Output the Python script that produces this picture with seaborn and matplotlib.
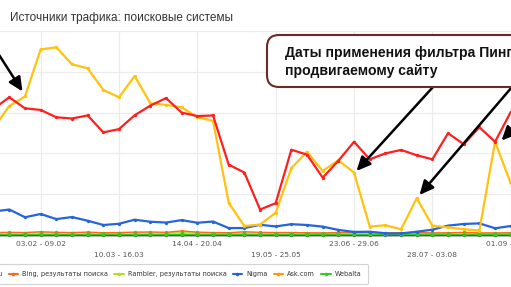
import matplotlib
matplotlib.use("Agg")
import matplotlib.pyplot as plt
import seaborn as sns
import pandas as pd
from matplotlib.lines import Line2D
from matplotlib.patches import FancyBboxPatch
from matplotlib.transforms import IdentityTransform

# ---- data (weekly points; week index 2 = 03.02-09.02) ----
weeks = list(range(-1, 33))
yandex = [61.9, 67.5, 62.1, 61.3, 57.7, 57.1, 58.6, 50.3, 51.9, 58.7, 63.4, 67.1, 60.0, 58.3, 58.6,
          34.5, 30.6, 12.5, 15.6, 41.8, 39.4, 28.1, 36.4, 45.7, 37.1, 40.0, 41.7, 39.1, 37.1, 49.9,
          44.5, 52.8, 45.7, 60.3]
google = [52.5, 63.2, 67.9, 91.0, 92.0, 83.7, 81.7, 71.1, 67.5, 77.9, 64.6, 63.8, 62.6, 57.7, 56.0,
          15.8, 4.4, 5.1, 10.9, 32.8, 40.8, 31.4, 36.6, 30.6, 4.1, 4.8, 2.8, 18.0, 4.6, 3.7,
          2.8, 2.2, 45.7, 25.3]
nigma = [11.5, 12.5, 8.7, 10.3, 7.8, 8.8, 7.0, 4.9, 5.5, 7.5, 6.5, 6.1, 7.3, 6.0, 6.6,
         3.4, 3.4, 5.0, 4.2, 5.3, 4.9, 4.1, 2.5, 1.5, 1.6, 0.8, 0.8, 1.6, 2.6, 4.6,
         5.4, 5.7, 3.3, 4.4]
bing = [1.2, 1.3, 1.2, 1.6, 1.3, 1.2, 1.4, 1.1, 1.2, 1.4, 1.5, 1.3, 2.0, 1.4, 1.2,
        1.1, 1.6, 1.3, 1.2, 1.2, 1.1, 1.0, 1.2, 1.3, 1.5, 1.1, 1.0, 1.2, 1.0, 1.1,
        1.3, 1.0, 1.0, 1.1]
rambler = [1.0, 1.1, 1.0, 1.1, 1.0, 1.0, 1.0, 0.9, 1.0, 1.0, 1.0, 1.0, 1.1, 1.0, 1.0,
           0.9, 0.9, 1.0, 0.9, 1.0, 1.0, 0.9, 0.9, 0.9, 0.9, 0.8, 0.9, 0.9, 0.9, 0.9,
           1.0, 0.9, 0.9, 0.9]
askcom = [0.7] * 34
webalta = [0.4] * 34
mailru = [0.15] * 34

series_names = ["Яндекс, результаты поиска", "Google, результаты поиска", "Поиск Mail.ru",
                "Bing, результаты поиска", "Rambler, результаты поиска", "Nigma", "Ask.com", "Webalta"]
series_values = [yandex, google, mailru, bing, rambler, nigma, askcom, webalta]
colors = ["#ff1f1f", "#ffc20e", "#333333", "#ff6a13", "#aee31a", "#2464dc", "#ff9a00", "#33cc22"]

major_pos = [2, 12, 22, 32]
major_lab = ["03.02 - 09.02", "14.04 - 20.04", "23.06 - 29.06", "01.09 - 07.09"]
minor_pos = [7, 17, 27]
minor_lab = ["10.03 - 16.03", "19.05 - 25.05", "28.07 - 03.08"]

title = "Источники трафика: поисковые системы"
note_lines = ["Даты применения фильтра Пингвин к", "продвигаемому сайту"]

rows = []
for name, vals in zip(series_names, series_values):
    for w, v in zip(weeks, vals):
        rows.append({"week": w, "value": v, "series": name})
df = pd.DataFrame(rows)

sns.set_style("white")
plt.rcParams["font.family"] = ["DejaVu Sans"]

W, H = 511, 287
fig = plt.figure(figsize=(W / 100, H / 100), dpi=100)
ax = fig.add_axes([0, 1 - 235 / H, 1, (235 - 31) / H])

draw_order = [2, 6, 4, 3, 7, 5, 1, 0]
for i in draw_order:
    name = series_names[i]
    sub = df[df.series == name]
    ms = 3.2 if name == "Webalta" else 2.4
    lw = 1.0 if i in (2, 3, 4, 6, 7) else 1.6
    sns.lineplot(data=sub, x="week", y="value", color=colors[i], marker="o", markersize=ms,
                 markeredgewidth=0, linewidth=lw, ax=ax, legend=False, sort=False,
                 clip_on=False, zorder=3 + draw_order.index(i))

ax.set_xlim(-9.3 / 15.67, (511 - 9.3) / 15.67)
ax.set_ylim(0, 100)
ax.set_yticks([0, 20, 40, 60, 80, 100])
ax.set_xticks(major_pos)
ax.set_xticklabels(major_lab)
ax.set_xticks(minor_pos, minor=True)
ax.set_xticklabels(minor_lab, minor=True)
ax.tick_params(axis="y", left=False, labelleft=False)
ax.tick_params(axis="x", which="major", length=0, pad=4.0, labelsize=5.3, labelcolor="#555555")
ax.tick_params(axis="x", which="minor", length=0, pad=12.2, labelsize=5.3, labelcolor="#555555")
ax.grid(True, which="both", axis="x", color="#ebebeb", lw=0.8)
ax.grid(True, which="major", axis="y", color="#ebebeb", lw=0.8)
ax.set_xlabel("")
ax.set_ylabel("")
for s in ["top", "left", "right"]:
    ax.spines[s].set_visible(False)
ax.spines["bottom"].set_color("#3a3a3a")
ax.spines["bottom"].set_linewidth(1.0)
ax.spines["bottom"].set_zorder(2.5)

# title
fig.text(10 / W, 1 - 21.5 / H, title, fontsize=8.5, color="#333333",
         family=["Liberation Sans", "DejaVu Sans"], va="baseline", ha="left")

# callout box
box = FancyBboxPatch((267, H - 87), 420, 52, boxstyle="round,pad=0,rounding_size=12",
                     transform=IdentityTransform(), facecolor="white", edgecolor="#6b2a2a",
                     linewidth=1.5, zorder=20)
fig.add_artist(box)
fig.text(285 / W, 1 - 56.7 / H, note_lines[0], fontsize=10.1, fontweight="bold", color="#111111",
         family=["Liberation Sans", "DejaVu Sans"], va="baseline", ha="left", zorder=21)
fig.text(285 / W, 1 - 74.5 / H, note_lines[1], fontsize=10.1, fontweight="bold", color="#111111",
         family=["Liberation Sans", "DejaVu Sans"], va="baseline", ha="left", zorder=21)

# arrows (figure pixel coordinates, origin top-left converted)
arrow_kw = dict(arrowstyle="-|>,head_length=0.6,head_width=0.28", color="black", lw=1.8,
                mutation_scale=14, shrinkA=0, shrinkB=0)
arrows = [((-6, 47), (22.5, 91.5)), ((433, 87), (356.5, 171)),
          ((512, 87), (419.5, 195)), ((540, 101), (501.5, 140.5))]
for (x0, y0), (x1, y1) in arrows:
    ax.annotate("", xy=(x1, H - y1), xytext=(x0, H - y0), xycoords="figure pixels",
                textcoords="figure pixels", arrowprops=arrow_kw, annotation_clip=False, zorder=22)

# legend
handles = [Line2D([0], [0], color=c, lw=1.5, marker="o", markersize=2.6, markeredgewidth=0)
           for c in colors]
leg = fig.legend(handles, series_names, loc="center right", bbox_to_anchor=(368 / W, 1 - 274 / H),
                 ncol=8, fontsize=4.7, frameon=True, fancybox=True, edgecolor="#c8c8c8",
                 handlelength=1.5, handletextpad=0.6, columnspacing=0.9, borderpad=1.0,
                 borderaxespad=0)
for t in leg.get_texts():
    t.set_color("#333333")
leg.get_frame().set_linewidth(0.8)

fig.savefig("out.png", dpi=100)
